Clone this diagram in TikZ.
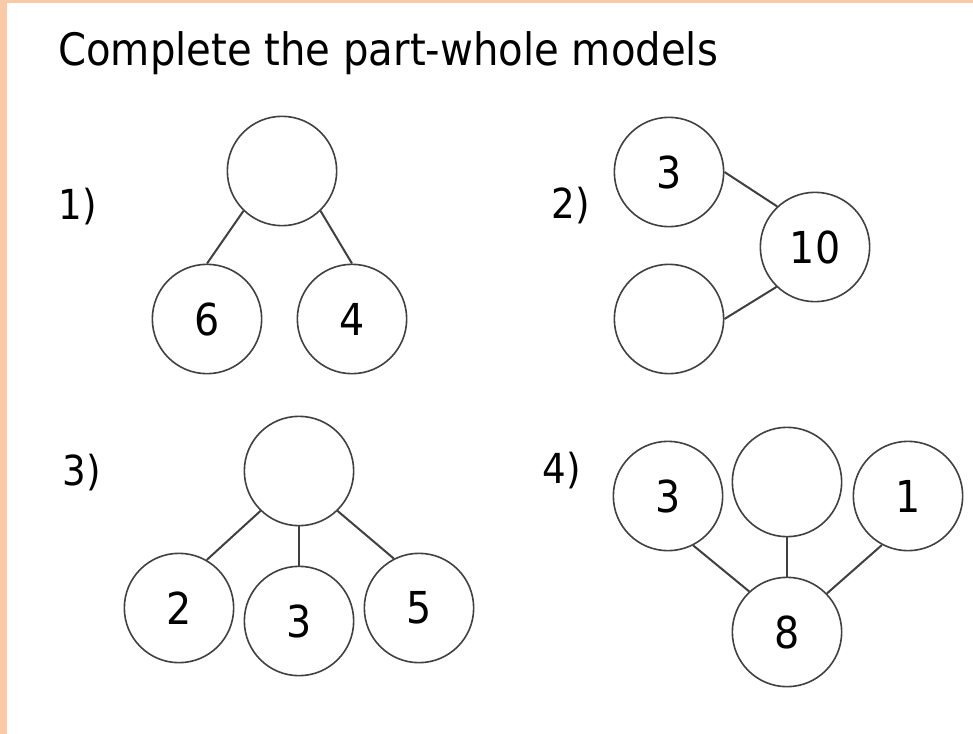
\documentclass[tikz,border=0pt]{standalone}
\usepackage{fontspec}
\setmainfont{DejaVu Sans Condensed}
\definecolor{peach}{RGB}{249,201,168}
\definecolor{ink}{RGB}{64,64,64}
\begin{document}
\begin{tikzpicture}[x=0.75pt,y=-0.75pt,
  part/.style={circle,draw=ink,line width=1.2pt,minimum size=82pt,inner sep=0pt,font=\fontsize{33}{38}\selectfont},
  link/.style={draw=ink,line width=1.5pt},
  lbl/.style={font=\fontsize{31}{36}\selectfont,inner sep=0pt},
  ttl/.style={font=\fontsize{33.5}{38}\selectfont,inner sep=0pt,anchor=base west}]
\useasboundingbox (0,0) rectangle (973,734);
\fill[white] (0,0) rectangle (973,734);
\fill[peach] (0,0) rectangle (7,734);
\fill[peach] (0,0) rectangle (973,3);
\node[ttl] (title) at (58,66) {Complete the part-whole models};
% labels
\node[lbl] (l1) at (78,207) {1)};
\node[lbl] (l2) at (571,206) {2)};
\node[lbl] (l3) at (82,473) {3)};
\node[lbl] (l4) at (562,471) {4)};
% model 1
\node[part] (a0) at (282,171) {};
\node[part] (a1) at (207,319) {6};
\node[part] (a2) at (352,319) {4};
\draw[link] (a0.226) -- (a1.north);
\draw[link] (a0.314) -- (a2.north);
% model 2
\node[part] (b1) at (669,172) {3};
\node[part] (b0) at (815,247) {10};
\node[part] (b2) at (669,319) {};
\draw[link] (b1.east) -- (b0.133);
\draw[link] (b2.east) -- (b0.226);
% model 3
\node[part] (c0) at (299,471) {};
\node[part] (c1) at (179,608) {2};
\node[part] (c2) at (299,621) {3};
\node[part] (c3) at (419,608) {5};
\draw[link] (c0.226) -- (c1.60);
\draw[link] (c0.south) -- (c2.north);
\draw[link] (c0.314) -- (c3.117);
% model 4
\node[part] (d1) at (668,496) {3};
\node[part] (d2) at (787,482) {};
\node[part] (d3) at (908,496) {1};
\node[part] (d0) at (787,632) {8};
\draw[link] (d1.297) -- (d0.133);
\draw[link] (d2.south) -- (d0.north);
\draw[link] (d3.242) -- (d0.44);
\end{tikzpicture}
\end{document}
